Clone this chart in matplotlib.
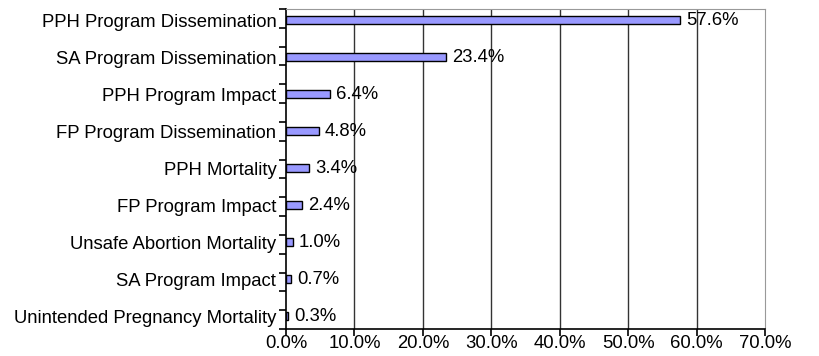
import matplotlib
matplotlib.use("Agg")
import matplotlib.pyplot as plt
import numpy as np
from matplotlib.ticker import FixedLocator, NullFormatter

categories = ["PPH Program Dissemination", "SA Program Dissemination", "PPH Program Impact",
              "FP Program Dissemination", "PPH Mortality", "FP Program Impact",
              "Unsafe Abortion Mortality", "SA Program Impact", "Unintended Pregnancy Mortality"]
values = [57.6, 23.4, 6.4, 4.8, 3.4, 2.4, 1.0, 0.7, 0.3]
xticks = [0, 10, 20, 30, 40, 50, 60, 70]

plt.rcParams['font.family'] = ['Liberation Sans', 'DejaVu Sans']
fig = plt.figure(figsize=(8.19, 3.56), dpi=100)
ax = fig.add_axes([286/819, 27/356, (765-286)/819, (347-27)/356])

n = len(categories)
ypos = np.arange(n)
ax.barh(ypos, values, height=0.22, color='#9999FF', edgecolor='black', linewidth=1.0, zorder=3)
for y, v in zip(ypos, values):
    ax.text(v + 0.9, y, f"{v:.1f}%", va='center', ha='left', fontsize=13.3, zorder=4)

ax.set_xlim(0, 70)
y_top, y_bot = -0.30, 8.35
ax.set_ylim(y_bot, y_top)
ax.set_xticks(xticks)
ax.set_xticklabels([f"{t:.1f}%" for t in xticks], fontsize=13.3)
ax.set_yticks(ypos)
ax.set_yticklabels(categories, fontsize=13.3)
ax.tick_params(axis='y', which='major', length=0, pad=7)
ax.yaxis.set_minor_locator(FixedLocator(list(np.linspace(y_top, y_bot, 18))))
ax.yaxis.set_minor_formatter(NullFormatter())
ax.tick_params(axis='y', which='minor', length=5, width=1.2, direction='out')
ax.tick_params(axis='x', which='major', length=5, width=1.2, direction='out', pad=-1)
for t in xticks[1:-1]:
    ax.axvline(t, color='#333333', linewidth=1.0, zorder=0)
for s in ['top', 'right']:
    ax.spines[s].set_color('#999999')
for s in ['left', 'bottom']:
    ax.spines[s].set_color('black')
    ax.spines[s].set_linewidth(1.2)

fig.savefig("out.png", dpi=100)
